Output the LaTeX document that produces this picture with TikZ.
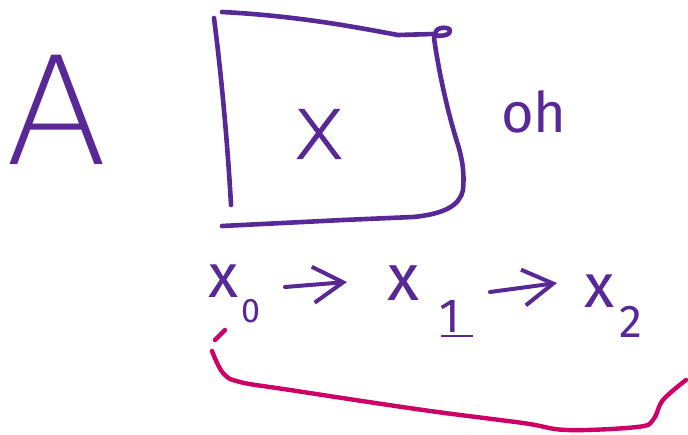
\documentclass[tikz,border=0pt]{standalone}
\usepackage{fontspec}
\setmainfont{Fira Sans}
\newfontfamily\thinfont{DejaVuSans-ExtraLight.ttf}
\newfontfamily\midfont{DejaVuSans-ExtraLight.ttf}[FakeBold=1.2]
\usetikzlibrary{arrows.meta}
\definecolor{pen}{RGB}{88,40,150}
\definecolor{hilite}{RGB}{204,0,102}
\tikzset{
  stroke/.style={draw=pen, line width=4.6pt, line cap=round, line join=round},
  redstroke/.style={draw=hilite, line width=4.4pt, line cap=round, line join=round},
  txt/.style={text=pen, inner sep=0pt, outer sep=0pt},
  harrow/.style={stroke, line width=4pt, -{Straight Barb[length=30pt,width=36pt,line width=4pt]}},
}
\begin{document}
\begin{tikzpicture}[x=1pt,y=-1pt]
\useasboundingbox (0,0) rectangle (688,434);
% letter A
\node[txt] (A) at (57,110) {\thinfont\fontsize{150}{150}\selectfont A};
% box
\draw[stroke] (222,12) .. controls (300,16) and (360,28) .. (398,35) -- (433,34);
\draw[stroke] (436,36) .. controls (432,27) and (448,26) .. (450,30) .. controls (452,35) and (440,37) .. (434,35);
\draw[stroke] (434,38) .. controls (440,80) and (450,120) .. (458,145)
  .. controls (464,165) and (464,178) .. (463,190)
  .. controls (460,205) and (445,214) .. (413,217) -- (343,220) -- (222,226);
\draw[stroke] (214,18) .. controls (222,80) and (228,150) .. (231,205);
\node[txt] (xin) at (319,134) {\midfont\fontsize{90}{90}\selectfont x};
% oh
\node[txt] (oh) at (534,112) {\fontsize{56}{56}\selectfont oh};
% sequence
\node[txt, anchor=base west] (x0) at (208,297) {\fontsize{62}{62}\selectfont x\hspace{3pt}\raisebox{-25pt}{\fontsize{34}{34}\selectfont 0}};
\node[txt, anchor=base west] (x1) at (387,300) {\fontsize{66}{66}\selectfont x\hspace{20pt}\raisebox{-32pt}{\fontsize{48}{48}\selectfont 1}};
\node[txt, anchor=base west] (x2) at (584,307) {\fontsize{62}{62}\selectfont x\hspace{5pt}\raisebox{-30pt}{\fontsize{46}{46}\selectfont 2}};
\draw[harrow] ([shift={(77,-10)}]x0.base west) -- ([shift={(-40,-18)}]x1.base west);
\draw[harrow] ([shift={(103,-8)}]x1.base west) -- ([shift={(-27,-24)}]x2.base west);
\draw[pen, line width=1.3pt] (441,336) -- (473,336);
% magenta bracket
\draw[redstroke] (215,340) -- (225,330);
\draw[redstroke] plot[smooth, tension=0.6] coordinates {(212,351) (223,373) (240,382) (290,390) (423,410) (523,423) (567,430) (637,427) (653,420) (663,400) (686,380)};
\end{tikzpicture}
\end{document}
